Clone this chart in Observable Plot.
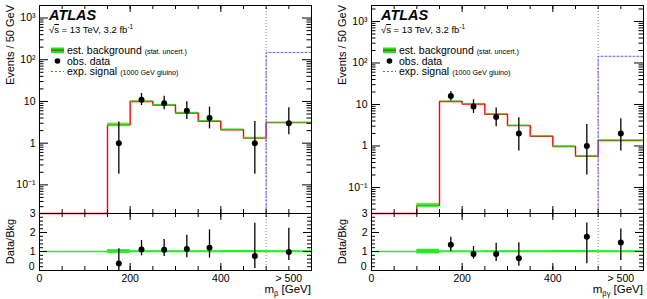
<!DOCTYPE html>
<html>
<head>
<meta charset="utf-8">
<script src="https://cdn.jsdelivr.net/npm/d3@7"></script>
<script src="https://cdn.jsdelivr.net/npm/@observablehq/plot@0.6"></script>
<style>
  body { margin: 0; background: #fff; }
  #chart { position: relative; width: 647px; height: 299px; font-family: "Liberation Sans", Arial, sans-serif; }
  #chart svg { position: absolute; overflow: visible; }
</style>
</head>
<body>
<div id="chart"></div>
<script>
// Bin edges in GeV; the last bin collects everything above 500 GeV.
const edges = [0, 50, 100, 150, 200, 250, 300, 350, 400, 450, 500, 600];

// m_beta distribution
const bkgBeta    = [0, 0, 0, 2.75, 10, 8.2, 5.3, 3.35, 2.1, 1.32, 3.1];
const uncBeta    = [0, 0, 0, 0.10, 0.04, 0.04, 0.04, 0.04, 0.05, 0.05, 0.04];
const sigBeta    = [0, 0, 0, 0, 0, 0, 0, 0, 0, 0, 150];
const dataBeta   = [null, null, null, 1, 11, 9, 6, 4, null, 1, 3];
const dataLoBeta = [null, null, null, 0.18, 8, 6.3, 3.7, 2.2, null, 0.18, 1.6];
const dataHiBeta = [null, null, null, 3.2, 15.5, 13.4, 9.8, 7.3, null, 3.3, 7.1];
const ratioLoBeta = [null, null, null, 0.0, 0.77, 0.74, 0.67, 0.65, null, 0.1, 0.53];
const ratioHiBeta = [null, null, null, 1.14, 1.58, 1.63, 1.86, 2.14, null, 2.49, 2.23];

// m_beta-gamma distribution
const bkgBG    = [0, 0, 0.037, 11.8, 10.3, 5.8, 3.1, 1.72, 0.97, 0.565, 1.36];
const uncBG    = [0, 0, 0.12, 0.03, 0.03, 0.04, 0.04, 0.04, 0.05, 0.05, 0.04];
const sigBG    = [0, 0, 0, 0, 0, 0, 0, 0, 0, 0, 145];
const dataBG   = [null, null, null, 16, 9, 5, 2, null, null, 1, 2];
const dataLoBG = [null, null, null, 12.1, 6.1, 2.9, 0.76, null, null, 0.2, 0.76];
const dataHiBG = [null, null, null, 20.3, 13, 8.2, 4.8, null, null, 3.3, 4.5];
const ratioLoBG = [null, null, null, 1.0, 0.6, 0.47, 0.22, null, null, 0.35, 0.53];
const ratioHiBG = [null, null, null, 1.75, 1.26, 1.44, 1.46, null, null, 2.5, 2.19];

// Axis tick labels
const xTickValues = [0, 200, 400, 550];
const xTickLabels = ["0", "200", "400", "> 500"];
const yDecades = [0.1, 1, 10, 100, 1000];
const yDecadeLabels = ["10\u207B\u00B9", "1", "10", "10\u00B2", "10\u00B3"];
const ratioTicks = [0, 1, 2, 3];

const FONT = '"Liberation Sans", Arial, sans-serif';
const chart = d3.select("#chart");

function drawPanel(cfg) {
  const {left, width, mr, bkg, unc, sig, data, lo, hi, rLo, rHi, yDomain, sub} = cfg;
  const ml = 39, fw = width - ml - mr;
  const mainH = 214, mainTop = 5, mainBottom = 1, fhMain = mainH - mainTop - mainBottom;
  const floor = yDomain[0];
  const nb = bkg.length;

  // background step line (empty bins sit on the axis floor)
  const bkgPts = bkg.map((v, i) => ({x: edges[i], y: v > 0 ? v : floor}));
  bkgPts.push({x: edges[nb], y: bkg[nb - 1] > 0 ? bkg[nb - 1] : floor});
  // signal step line, starting at the first filled bin
  const s0 = sig.findIndex(v => v > 0);
  const sigPts = [{x: edges[s0], y: floor}];
  for (let i = s0; i < nb; i++) sigPts.push({x: edges[i], y: sig[i]});
  sigPts.push({x: edges[nb], y: sig[nb - 1]});

  const bands = bkg.map((v, i) => ({x1: edges[i], x2: edges[i + 1], v, u: unc[i]})).filter(d => d.v > 0);
  const pts = data.map((v, i) => ({
    x: (edges[i] + edges[i + 1]) / 2, n: v, lo: lo[i], hi: hi[i],
    r: v == null ? null : v / bkg[i], rlo: rLo[i], rhi: rHi[i]
  })).filter(d => d.n != null);

  // log-axis tick positions
  const minor = [];
  for (let e = -2; e <= 3; e++) for (let m = 2; m <= 9; m++) {
    const v = m * 10 ** e;
    if (v >= yDomain[0] && v <= yDomain[1]) minor.push(v);
  }
  const xMinor = d3.range(0, 601, 50);
  const xMajor = [0, 200, 400, 600];

  const main = Plot.plot({
    width, height: mainH, marginLeft: ml, marginRight: mr, marginTop: mainTop, marginBottom: mainBottom,
    style: {fontFamily: FONT, background: "transparent"},
    x: {domain: [0, 600], axis: null},
    y: {type: "log", domain: yDomain, axis: null, clamp: true},
    marks: [
      Plot.line(bkgPts, {x: "x", y: "y", curve: "step-after", stroke: "#ff0000", strokeWidth: 1.4}),
      Plot.rect(bands, {x1: "x1", x2: "x2", y1: d => d.v * (1 - d.u), y2: d => d.v * (1 + d.u), fill: "#1ee61e", fillOpacity: 0.78}),
      Plot.ruleX([500], {stroke: "#8a8a8a", strokeDasharray: "1,2", strokeWidth: 1}),
      Plot.line(sigPts, {x: "x", y: "y", curve: "step-after", stroke: "#5a5ae6", strokeDasharray: "2,2", strokeWidth: 1}),
      Plot.ruleX(pts, {x: "x", y1: "lo", y2: "hi", stroke: "#000", strokeWidth: 1.3}),
      Plot.dot(pts, {x: "x", y: "n", r: 3, fill: "#000"}),
      Plot.tickY(yDecades, {y: d => d, insetRight: fw - 9, stroke: "#000"}),
      Plot.tickY(yDecades, {y: d => d, insetLeft: fw - 9, stroke: "#000"}),
      Plot.tickY(minor, {y: d => d, insetRight: fw - 4.5, stroke: "#000"}),
      Plot.tickY(minor, {y: d => d, insetLeft: fw - 4.5, stroke: "#000"}),
      Plot.tickX(xMinor, {x: d => d, insetTop: fhMain - 4, stroke: "#000"}),
      Plot.tickX(xMinor, {x: d => d, insetBottom: fhMain - 4, stroke: "#000"}),
      Plot.tickX(xMajor, {x: d => d, insetTop: fhMain - 7, stroke: "#000"}),
      Plot.tickX(xMajor, {x: d => d, insetBottom: fhMain - 7, stroke: "#000"}),
      Plot.text(yDecades, {y: d => d, text: (d, i) => yDecadeLabels[i], frameAnchor: "left", dx: -4, textAnchor: "end", fontSize: 10.5, fill: "#000"}),
      Plot.frame({stroke: "#000", strokeWidth: 1})
    ]
  });

  const ratioH = 86, ratioBottom = 29, fhR = ratioH - ratioBottom;
  const ratioMinor = d3.range(0, 3.01, 0.2);
  const ratio = Plot.plot({
    width, height: ratioH, marginLeft: ml, marginRight: mr, marginTop: 0, marginBottom: ratioBottom,
    style: {fontFamily: FONT, background: "transparent"},
    x: {domain: [0, 600], axis: null},
    y: {domain: [0, 3], axis: null, clamp: true},
    marks: [
      Plot.ruleY([1], {stroke: "#22ee22", strokeWidth: 1.5}),
      Plot.rect(bands, {x1: "x1", x2: "x2", y1: d => 1 - d.u, y2: d => 1 + d.u, fill: "#22ee22"}),
      Plot.ruleX([500], {stroke: "#8a8a8a", strokeDasharray: "1,2", strokeWidth: 1}),
      Plot.ruleX(pts, {x: "x", y1: "rlo", y2: "rhi", stroke: "#000", strokeWidth: 1.3}),
      Plot.dot(pts, {x: "x", y: "r", r: 3, fill: "#000"}),
      Plot.tickY(ratioTicks, {y: d => d, insetRight: fw - 8, stroke: "#000"}),
      Plot.tickY(ratioTicks, {y: d => d, insetLeft: fw - 8, stroke: "#000"}),
      Plot.tickY(ratioMinor, {y: d => d, insetRight: fw - 4, stroke: "#000"}),
      Plot.tickY(ratioMinor, {y: d => d, insetLeft: fw - 4, stroke: "#000"}),
      Plot.tickX(xMinor, {x: d => d, insetTop: fhR - 4, stroke: "#000"}),
      Plot.tickX(xMinor, {x: d => d, insetBottom: fhR - 4, stroke: "#000"}),
      Plot.tickX(xMajor, {x: d => d, insetTop: fhR - 7, stroke: "#000"}),
      Plot.tickX(xMajor, {x: d => d, insetBottom: fhR - 7, stroke: "#000"}),
      // the "0" label sits a little higher, clear of the x-axis "0"
      Plot.text(ratioTicks.filter(d => d > 0), {y: d => d, text: d => String(d), frameAnchor: "left", dx: -4, textAnchor: "end", fontSize: 10.5, fill: "#000"}),
      Plot.text(ratioTicks.filter(d => d === 0), {y: d => d, text: d => String(d), frameAnchor: "left", dx: -5, dy: -4, textAnchor: "end", fontSize: 10.5, fill: "#000"}),
      Plot.text(xTickValues, {x: d => d, text: (d, i) => xTickLabels[i], frameAnchor: "bottom", dy: 11, fontSize: 10.5, fill: "#000"}),
      Plot.frame({stroke: "#000", strokeWidth: 1})
    ]
  });

  const mainNode = chart.append(() => main).style("left", left + "px").style("top", "0px");
  const ratioNode = chart.append(() => ratio).style("left", left + "px").style("top", "213px");

  // text annotations in the main pad
  const g = mainNode.append("g").attr("font-family", FONT).attr("fill", "#000").attr("text-anchor", "start");
  const lx = ml + 10;
  g.append("text").attr("x", lx).attr("y", 20).attr("font-size", 14.5).attr("font-weight", "bold")
    .attr("font-style", "italic").text("ATLAS");
  const t2 = g.append("text").attr("x", lx).attr("y", 33).attr("font-size", 9.5);
  t2.append("tspan").text("\u221A");
  t2.append("tspan").attr("text-decoration", "overline").text("s");
  t2.append("tspan").text(" = 13 TeV, 3.2 fb");
  t2.append("tspan").attr("font-size", 6.5).attr("dy", -4).text("-1");

  // legend
  g.append("rect").attr("x", lx + 2).attr("y", 47.5).attr("width", 13).attr("height", 5.5).attr("fill", "#1ee61e");
  g.append("line").attr("x1", lx + 2).attr("x2", lx + 15).attr("y1", 50.2).attr("y2", 50.2)
    .attr("stroke", "#6a5a10").attr("stroke-width", 1.3);
  const e1 = g.append("text").attr("x", lx + 18).attr("y", 54).attr("font-size", 10.5);
  e1.append("tspan").text("est. background ");
  e1.append("tspan").attr("font-size", 7.2).text("(stat. uncert.)");
  g.append("circle").attr("cx", lx + 8.5).attr("cy", 61).attr("r", 2.8).attr("fill", "#000");
  g.append("text").attr("x", lx + 18).attr("y", 64.5).attr("font-size", 10.5).text("obs. data");
  g.append("line").attr("x1", lx + 2).attr("x2", lx + 15).attr("y1", 71.5).attr("y2", 71.5)
    .attr("stroke", "#5a5ae6").attr("stroke-dasharray", "2,2");
  const e3 = g.append("text").attr("x", lx + 18).attr("y", 75).attr("font-size", 10.5);
  e3.append("tspan").text("exp. signal ");
  e3.append("tspan").attr("font-size", 7.2).text("(1000 GeV gluino)");

  // axis titles
  mainNode.append("text").attr("transform", `translate(${ml - 25},5) rotate(-90)`)
    .attr("text-anchor", "end").attr("font-family", FONT).attr("font-size", 11).text("Events / 50 GeV");
  ratioNode.append("text").attr("transform", `translate(${ml - 25},${fhR / 2}) rotate(-90)`)
    .attr("text-anchor", "middle").attr("font-family", FONT).attr("font-size", 11).text("Data/Bkg");
  const xt = ratioNode.append("text").attr("x", width - mr).attr("y", 80).attr("text-anchor", "end")
    .attr("font-family", FONT).attr("font-size", 11.5);
  xt.append("tspan").text("m");
  xt.append("tspan").attr("font-size", 7.5).attr("dy", 3).text(sub);
  xt.append("tspan").attr("dy", -3).text(" [GeV]");
}

drawPanel({
  left: 0, width: 323, mr: 12,
  bkg: bkgBeta, unc: uncBeta, sig: sigBeta, data: dataBeta, lo: dataLoBeta, hi: dataHiBeta,
  rLo: ratioLoBeta, rHi: ratioHiBeta,
  yDomain: [10 ** -1.686, 10 ** 3.30], sub: "\u03B2"
});
drawPanel({
  left: 332, width: 315, mr: 4,
  bkg: bkgBG, unc: uncBG, sig: sigBG, data: dataBG, lo: dataLoBG, hi: dataHiBG,
  rLo: ratioLoBG, rHi: ratioHiBG,
  yDomain: [10 ** -1.627, 10 ** 3.385], sub: "\u03B2\u03B3"
});
</script>
</body>
</html>
